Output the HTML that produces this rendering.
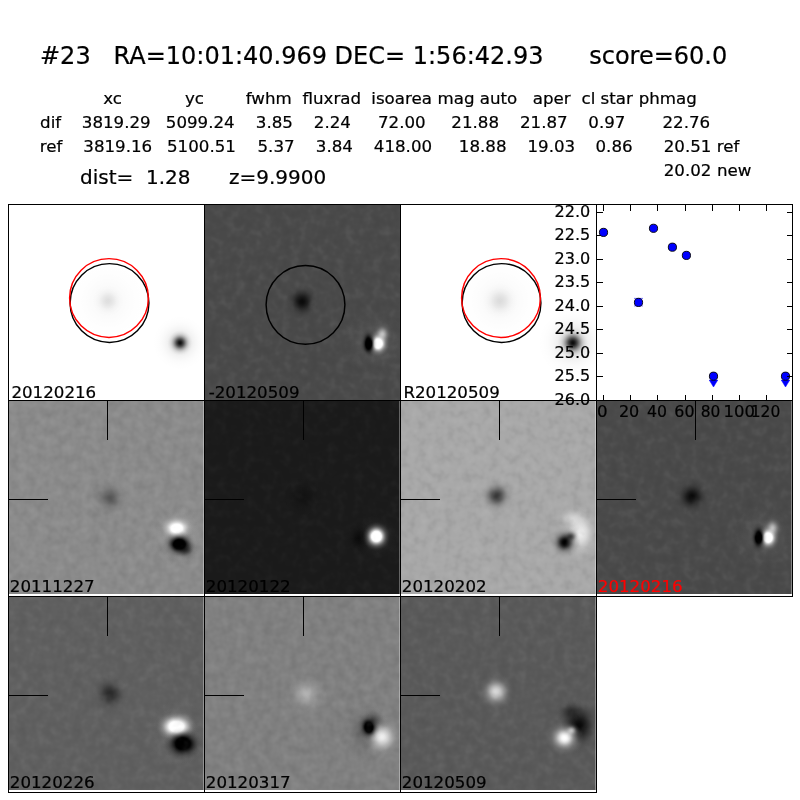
<!DOCTYPE html>
<html lang="en"><head><meta charset="utf-8"><title>#23 candidate</title>
<style>
html,body{margin:0;padding:0;background:#fff;}
body{width:800px;height:800px;overflow:hidden;position:relative;}
svg{position:absolute;left:0;top:0;display:block;}
text{font-family:"DejaVu Sans", "Liberation Sans", sans-serif;fill:#000;stroke:#000;stroke-width:0.22px;}
.t24{font-size:24px}.t20{font-size:20px}.t16{font-size:16.667px}
.ln{stroke:#000;stroke-width:1;shape-rendering:crispEdges;fill:none}
</style></head><body>
<svg width="800" height="800" viewBox="0 0 800 800">
<defs>
<radialGradient id="gk"><stop offset="0.00" stop-color="#000" stop-opacity="1.000"/><stop offset="0.07" stop-color="#000" stop-opacity="0.977"/><stop offset="0.14" stop-color="#000" stop-opacity="0.911"/><stop offset="0.21" stop-color="#000" stop-opacity="0.811"/><stop offset="0.29" stop-color="#000" stop-opacity="0.689"/><stop offset="0.36" stop-color="#000" stop-opacity="0.558"/><stop offset="0.43" stop-color="#000" stop-opacity="0.431"/><stop offset="0.50" stop-color="#000" stop-opacity="0.317"/><stop offset="0.57" stop-color="#000" stop-opacity="0.221"/><stop offset="0.64" stop-color="#000" stop-opacity="0.146"/><stop offset="0.71" stop-color="#000" stop-opacity="0.091"/><stop offset="0.79" stop-color="#000" stop-opacity="0.052"/><stop offset="0.86" stop-color="#000" stop-opacity="0.026"/><stop offset="0.93" stop-color="#000" stop-opacity="0.010"/><stop offset="1.00" stop-color="#000" stop-opacity="0.000"/></radialGradient>
<radialGradient id="gw"><stop offset="0.00" stop-color="#fff" stop-opacity="1.000"/><stop offset="0.07" stop-color="#fff" stop-opacity="0.977"/><stop offset="0.14" stop-color="#fff" stop-opacity="0.911"/><stop offset="0.21" stop-color="#fff" stop-opacity="0.811"/><stop offset="0.29" stop-color="#fff" stop-opacity="0.689"/><stop offset="0.36" stop-color="#fff" stop-opacity="0.558"/><stop offset="0.43" stop-color="#fff" stop-opacity="0.431"/><stop offset="0.50" stop-color="#fff" stop-opacity="0.317"/><stop offset="0.57" stop-color="#fff" stop-opacity="0.221"/><stop offset="0.64" stop-color="#fff" stop-opacity="0.146"/><stop offset="0.71" stop-color="#fff" stop-opacity="0.091"/><stop offset="0.79" stop-color="#fff" stop-opacity="0.052"/><stop offset="0.86" stop-color="#fff" stop-opacity="0.026"/><stop offset="0.93" stop-color="#fff" stop-opacity="0.010"/><stop offset="1.00" stop-color="#fff" stop-opacity="0.000"/></radialGradient>
<radialGradient id="gK"><stop offset="0.00" stop-color="#000" stop-opacity="1.000"/><stop offset="0.07" stop-color="#000" stop-opacity="1.000"/><stop offset="0.14" stop-color="#000" stop-opacity="1.000"/><stop offset="0.21" stop-color="#000" stop-opacity="1.000"/><stop offset="0.29" stop-color="#000" stop-opacity="1.000"/><stop offset="0.36" stop-color="#000" stop-opacity="0.949"/><stop offset="0.43" stop-color="#000" stop-opacity="0.733"/><stop offset="0.50" stop-color="#000" stop-opacity="0.539"/><stop offset="0.57" stop-color="#000" stop-opacity="0.376"/><stop offset="0.64" stop-color="#000" stop-opacity="0.249"/><stop offset="0.71" stop-color="#000" stop-opacity="0.154"/><stop offset="0.79" stop-color="#000" stop-opacity="0.088"/><stop offset="0.86" stop-color="#000" stop-opacity="0.044"/><stop offset="0.93" stop-color="#000" stop-opacity="0.016"/><stop offset="1.00" stop-color="#000" stop-opacity="0.000"/></radialGradient>
<radialGradient id="gW"><stop offset="0.00" stop-color="#fff" stop-opacity="1.000"/><stop offset="0.07" stop-color="#fff" stop-opacity="1.000"/><stop offset="0.14" stop-color="#fff" stop-opacity="1.000"/><stop offset="0.21" stop-color="#fff" stop-opacity="1.000"/><stop offset="0.29" stop-color="#fff" stop-opacity="1.000"/><stop offset="0.36" stop-color="#fff" stop-opacity="0.949"/><stop offset="0.43" stop-color="#fff" stop-opacity="0.733"/><stop offset="0.50" stop-color="#fff" stop-opacity="0.539"/><stop offset="0.57" stop-color="#fff" stop-opacity="0.376"/><stop offset="0.64" stop-color="#fff" stop-opacity="0.249"/><stop offset="0.71" stop-color="#fff" stop-opacity="0.154"/><stop offset="0.79" stop-color="#fff" stop-opacity="0.088"/><stop offset="0.86" stop-color="#fff" stop-opacity="0.044"/><stop offset="0.93" stop-color="#fff" stop-opacity="0.016"/><stop offset="1.00" stop-color="#fff" stop-opacity="0.000"/></radialGradient>
<filter id="nzw" x="0" y="0" width="1" height="1" color-interpolation-filters="sRGB"><feTurbulence type="fractalNoise" baseFrequency="0.11" numOctaves="2" seed="3"/><feColorMatrix type="matrix" values="0 0 0 0 1  0 0 0 0 1  0 0 0 0 1  0.36 0 0 0 -0.18"/></filter>
<filter id="nzk" x="0" y="0" width="1" height="1" color-interpolation-filters="sRGB"><feTurbulence type="fractalNoise" baseFrequency="0.11" numOctaves="2" seed="3"/><feColorMatrix type="matrix" values="0 0 0 0 0  0 0 0 0 0  0 0 0 0 0  -0.36 0 0 0 0.18"/></filter>
</defs>
<clipPath id="c0"><rect x="8" y="204" width="196" height="196"/></clipPath>
<g clip-path="url(#c0)">
<rect x="8" y="204" width="196" height="196" fill="#ffffff"/>
<ellipse cx="108" cy="300.8" rx="45" ry="45" fill="url(#gk)" opacity="0.03"/>
<ellipse cx="108" cy="300.8" rx="16.5" ry="16.5" fill="url(#gk)" opacity="0.1"/>
<ellipse cx="180" cy="342.8" rx="28.5" ry="28.5" fill="url(#gk)" opacity="0.13"/>
<ellipse cx="180" cy="342.8" rx="12.9" ry="12.9" fill="url(#gk)" opacity="0.93"/>
</g>
<circle cx="109.5" cy="303.0" r="39.4" fill="none" stroke="#000" stroke-width="1.45"/>
<circle cx="109.0" cy="298.0" r="39.4" fill="none" stroke="#f00" stroke-width="1.45"/>
<rect class="ln" x="8.5" y="204.5" width="196" height="196"/>
<text class="t16" x="11.4" y="397.5">20120216</text>
<clipPath id="c1"><rect x="204" y="204" width="196" height="196"/></clipPath>
<g clip-path="url(#c1)">
<rect x="204" y="204" width="196" height="196" fill="#4a4a4a"/>
<ellipse cx="302" cy="301.6" rx="18.6" ry="18.6" fill="url(#gk)" opacity="0.85"/>
<ellipse cx="375" cy="342" rx="36" ry="36" fill="url(#gw)" opacity="0.09"/>
<ellipse cx="382.4" cy="334.0" rx="10.2" ry="12.0" fill="url(#gw)" opacity="0.6"/>
<ellipse cx="378.2" cy="343.6" rx="11.7" ry="13.5" fill="url(#gW)" opacity="1.0"/>
<ellipse cx="368.6" cy="343.6" rx="8.7" ry="15.9" fill="url(#gK)" opacity="1.0"/>
<rect x="204" y="204" width="196" height="196" filter="url(#nzw)" opacity="0.4"/>
<rect x="204" y="204" width="196" height="196" filter="url(#nzk)" opacity="0.4"/>
</g>
<circle cx="305.5" cy="304.8" r="39.4" fill="none" stroke="#000" stroke-width="1.45"/>
<rect class="ln" x="204.5" y="204.5" width="196" height="196"/>
<text class="t16" x="208.7" y="397.5">-20120509</text>
<clipPath id="c2"><rect x="400" y="204" width="196" height="196"/></clipPath>
<g clip-path="url(#c2)">
<rect x="400" y="204" width="196" height="196" fill="#ffffff"/>
<ellipse cx="500" cy="300.8" rx="48" ry="48" fill="url(#gk)" opacity="0.03"/>
<ellipse cx="500" cy="300.8" rx="19.5" ry="19.5" fill="url(#gk)" opacity="0.11"/>
<ellipse cx="572.8" cy="342.8" rx="36" ry="36" fill="url(#gk)" opacity="0.14"/>
<ellipse cx="572.8" cy="342.8" rx="15.6" ry="15.6" fill="url(#gk)" opacity="0.95"/>
</g>
<circle cx="501.5" cy="303.0" r="39.4" fill="none" stroke="#000" stroke-width="1.45"/>
<circle cx="501.0" cy="298.0" r="39.4" fill="none" stroke="#f00" stroke-width="1.45"/>
<rect class="ln" x="400.5" y="204.5" width="196" height="196"/>
<text class="t16" x="403.4" y="397.5">R20120509</text>
<clipPath id="c3"><rect x="8" y="400" width="196" height="194"/></clipPath>
<g clip-path="url(#c3)">
<rect x="8" y="400" width="196" height="194" fill="#8b8b8b"/>
<ellipse cx="109.2" cy="498" rx="19.5" ry="19.5" fill="url(#gk)" opacity="0.36"/>
<ellipse cx="178" cy="536" rx="36" ry="36" fill="url(#gw)" opacity="0.1"/>
<ellipse cx="177" cy="527.5" rx="22.5" ry="16.5" fill="url(#gw)" opacity="0.35"/>
<ellipse cx="180" cy="546" rx="22.5" ry="18" fill="url(#gk)" opacity="0.35"/>
<ellipse cx="176.8" cy="528.4" rx="16.2" ry="12.0" fill="url(#gW)" opacity="1.0"/>
<ellipse cx="179.4" cy="544.2" rx="16.8" ry="13.5" fill="url(#gK)" opacity="1.0"/>
<ellipse cx="186" cy="550" rx="12" ry="10.5" fill="url(#gk)" opacity="0.5"/>
<rect x="8" y="400" width="196" height="194" filter="url(#nzw)" opacity="0.5"/>
<rect x="8" y="400" width="196" height="194" filter="url(#nzk)" opacity="0.5"/>
</g>
<rect x="203" y="400" width="1" height="194" fill="#fff" opacity="0.32"/>
<path class="ln" d="M107.5 400V440 M8 499.5H48"/>
<rect class="ln" x="8.5" y="400.5" width="196" height="196"/>
<text class="t16" x="9.8" y="592.0">20111227</text>
<clipPath id="c4"><rect x="204" y="400" width="196" height="194"/></clipPath>
<g clip-path="url(#c4)">
<rect x="204" y="400" width="196" height="194" fill="#1b1b1b"/>
<ellipse cx="303" cy="497" rx="24" ry="24" fill="url(#gk)" opacity="0.3"/>
<ellipse cx="360" cy="538.4" rx="15" ry="18" fill="url(#gk)" opacity="0.65"/>
<ellipse cx="377" cy="536.6" rx="24" ry="24" fill="url(#gw)" opacity="0.12"/>
<ellipse cx="376.4" cy="536.4" rx="14.1" ry="14.7" fill="url(#gW)" opacity="1.0"/>
<rect x="204" y="400" width="196" height="194" filter="url(#nzw)" opacity="0.2"/>
<rect x="204" y="400" width="196" height="194" filter="url(#nzk)" opacity="0.2"/>
</g>
<rect x="399" y="400" width="1" height="194" fill="#fff" opacity="0.32"/>
<path class="ln" d="M303.5 400V440 M204 499.5H244"/>
<rect class="ln" x="204.5" y="400.5" width="196" height="196"/>
<text class="t16" x="205.8" y="592.0">20120122</text>
<clipPath id="c5"><rect x="400" y="400" width="196" height="194"/></clipPath>
<g clip-path="url(#c5)">
<rect x="400" y="400" width="196" height="194" fill="#a8a8a8"/>
<ellipse cx="496.8" cy="495.8" rx="18.0" ry="18.0" fill="url(#gk)" opacity="0.68"/>
<ellipse cx="580.5" cy="533" rx="21.0" ry="30" fill="url(#gw)" opacity="0.8"/>
<ellipse cx="572" cy="519" rx="19.5" ry="13.5" fill="url(#gw)" opacity="0.45"/>
<ellipse cx="570.5" cy="536.5" rx="9.6" ry="8.4" fill="url(#gk)" opacity="0.6"/>
<ellipse cx="564.8" cy="542.4" rx="15.9" ry="15.9" fill="url(#gk)" opacity="0.97"/>
<ellipse cx="564.8" cy="542.4" rx="8.4" ry="8.4" fill="url(#gk)" opacity="0.8"/>
<rect x="400" y="400" width="196" height="194" filter="url(#nzw)" opacity="0.5"/>
<rect x="400" y="400" width="196" height="194" filter="url(#nzk)" opacity="0.5"/>
</g>
<rect x="595" y="400" width="1" height="194" fill="#fff" opacity="0.32"/>
<path class="ln" d="M499.5 400V440 M400 499.5H440"/>
<rect class="ln" x="400.5" y="400.5" width="196" height="196"/>
<text class="t16" x="401.8" y="592.0">20120202</text>
<clipPath id="c6"><rect x="596" y="400" width="196" height="194"/></clipPath>
<g clip-path="url(#c6)">
<rect x="596" y="400" width="196" height="194" fill="#4a4a4a"/>
<ellipse cx="692" cy="496.6" rx="18.6" ry="18.6" fill="url(#gk)" opacity="0.87"/>
<ellipse cx="765" cy="536" rx="36" ry="36" fill="url(#gw)" opacity="0.09"/>
<ellipse cx="772.4" cy="528.0" rx="10.2" ry="12.0" fill="url(#gw)" opacity="0.6"/>
<ellipse cx="768.2" cy="537.6" rx="11.7" ry="13.5" fill="url(#gW)" opacity="1.0"/>
<ellipse cx="758.6" cy="537.6" rx="8.7" ry="15.9" fill="url(#gK)" opacity="1.0"/>
<rect x="596" y="400" width="196" height="194" filter="url(#nzw)" opacity="0.4"/>
<rect x="596" y="400" width="196" height="194" filter="url(#nzk)" opacity="0.4"/>
</g>
<rect x="791" y="400" width="1" height="194" fill="#fff" opacity="0.32"/>
<path class="ln" d="M695.5 400V440 M596 499.5H636"/>
<rect class="ln" x="596.5" y="400.5" width="196" height="196"/>
<text class="t16" x="597.8" y="592.0" style="fill:#f00;stroke:#f00">20120216</text>
<clipPath id="c7"><rect x="8" y="596" width="196" height="194"/></clipPath>
<g clip-path="url(#c7)">
<rect x="8" y="596" width="196" height="194" fill="#606060"/>
<ellipse cx="110.2" cy="693.8" rx="19.5" ry="20.4" fill="url(#gk)" opacity="0.58"/>
<ellipse cx="178" cy="733" rx="39" ry="39" fill="url(#gw)" opacity="0.07"/>
<ellipse cx="176.4" cy="725.5" rx="24" ry="18" fill="url(#gw)" opacity="0.35"/>
<ellipse cx="184" cy="745" rx="24" ry="19.5" fill="url(#gk)" opacity="0.35"/>
<ellipse cx="176.4" cy="726.6" rx="20.4" ry="15.0" fill="url(#gW)" opacity="1.0"/>
<ellipse cx="182.8" cy="743.6" rx="20.4" ry="16.8" fill="url(#gK)" opacity="1.0"/>
<rect x="8" y="596" width="196" height="194" filter="url(#nzw)" opacity="0.4"/>
<rect x="8" y="596" width="196" height="194" filter="url(#nzk)" opacity="0.4"/>
</g>
<rect x="203" y="596" width="1" height="194" fill="#fff" opacity="0.32"/>
<path class="ln" d="M107.5 596V636 M8 695.5H48"/>
<rect class="ln" x="8.5" y="596.5" width="196" height="196"/>
<text class="t16" x="9.8" y="788.0">20120226</text>
<clipPath id="c8"><rect x="204" y="596" width="196" height="194"/></clipPath>
<g clip-path="url(#c8)">
<rect x="204" y="596" width="196" height="194" fill="#808080"/>
<ellipse cx="306.6" cy="693.8" rx="22.5" ry="22.5" fill="url(#gw)" opacity="0.38"/>
<ellipse cx="366" cy="732" rx="30" ry="33" fill="url(#gk)" opacity="0.22"/>
<ellipse cx="381.8" cy="737.0" rx="21.6" ry="21.6" fill="url(#gw)" opacity="0.88"/>
<ellipse cx="373" cy="721" rx="16.5" ry="15" fill="url(#gk)" opacity="0.32"/>
<ellipse cx="368.8" cy="727.2" rx="11.4" ry="14.4" fill="url(#gK)" opacity="1.0"/>
<rect x="204" y="596" width="196" height="194" filter="url(#nzw)" opacity="0.5"/>
<rect x="204" y="596" width="196" height="194" filter="url(#nzk)" opacity="0.5"/>
</g>
<rect x="399" y="596" width="1" height="194" fill="#fff" opacity="0.32"/>
<path class="ln" d="M303.5 596V636 M204 695.5H244"/>
<rect class="ln" x="204.5" y="596.5" width="196" height="196"/>
<text class="t16" x="205.8" y="788.0">20120317</text>
<clipPath id="c9"><rect x="400" y="596" width="196" height="194"/></clipPath>
<g clip-path="url(#c9)">
<rect x="400" y="596" width="196" height="194" fill="#5a5a5a"/>
<ellipse cx="496" cy="692" rx="18.6" ry="18.6" fill="url(#gw)" opacity="0.8"/>
<ellipse cx="579" cy="725.5" rx="24" ry="28.5" fill="url(#gk)" opacity="0.9"/>
<ellipse cx="571" cy="712" rx="18" ry="13.5" fill="url(#gk)" opacity="0.45"/>
<ellipse cx="571.5" cy="730.5" rx="9" ry="7.8" fill="url(#gw)" opacity="0.6"/>
<ellipse cx="564.6" cy="737.8" rx="19.2" ry="18.0" fill="url(#gw)" opacity="1.0"/>
<ellipse cx="564.8" cy="737.6" rx="9.0" ry="9.0" fill="url(#gw)" opacity="0.7"/>
<rect x="400" y="596" width="196" height="194" filter="url(#nzw)" opacity="0.4"/>
<rect x="400" y="596" width="196" height="194" filter="url(#nzk)" opacity="0.4"/>
</g>
<rect x="595" y="596" width="1" height="194" fill="#fff" opacity="0.32"/>
<path class="ln" d="M499.5 596V636 M400 695.5H440"/>
<rect class="ln" x="400.5" y="596.5" width="196" height="196"/>
<text class="t16" x="401.8" y="788.0">20120509</text>
<rect x="596" y="204" width="196" height="196" fill="#fff"/>
<path class="ln" d="M596.5 212.5h6M792.5 212.5h-6M596.5 235.5h6M792.5 235.5h-6M596.5 259.5h6M792.5 259.5h-6M596.5 282.5h6M792.5 282.5h-6M596.5 306.5h6M792.5 306.5h-6M596.5 329.5h6M792.5 329.5h-6M596.5 353.5h6M792.5 353.5h-6M596.5 376.5h6M792.5 376.5h-6M603.5 204.5v6M603.5 400.5v-6M630.5 204.5v6M630.5 400.5v-6M657.5 204.5v6M657.5 400.5v-6M685.5 204.5v6M685.5 400.5v-6M712.5 204.5v6M712.5 400.5v-6M739.5 204.5v6M739.5 400.5v-6M766.5 204.5v6M766.5 400.5v-6"/>
<path d="M709.2 380.0h8.6l-4.3 7z" fill="#00f" stroke="#00f" stroke-width="0.5"/>
<path d="M781.2 380.0h8.6l-4.3 7z" fill="#00f" stroke="#00f" stroke-width="0.5"/>
<path d="M634 298.4h9M634 305.9h9" stroke="#00f" stroke-width="0.8" stroke-opacity="0.7" fill="none"/>
<circle cx="603.5" cy="232.4" r="4.1" fill="#00f" stroke="#000" stroke-width="0.9"/>
<circle cx="638.5" cy="302.4" r="4.1" fill="#00f" stroke="#000" stroke-width="0.9"/>
<circle cx="653.5" cy="228.3" r="4.1" fill="#00f" stroke="#000" stroke-width="0.9"/>
<circle cx="672.4" cy="247.2" r="4.1" fill="#00f" stroke="#000" stroke-width="0.9"/>
<circle cx="686.4" cy="255.4" r="4.1" fill="#00f" stroke="#000" stroke-width="0.9"/>
<circle cx="713.5" cy="376.2" r="4.1" fill="#00f" stroke="#000" stroke-width="0.9"/>
<circle cx="785.5" cy="376.2" r="4.1" fill="#00f" stroke="#000" stroke-width="0.9"/>
<path class="ln" d="M792.5 376.5h-6"/>
<rect class="ln" x="596.5" y="204.5" width="196" height="196"/>
<text class="t16" text-anchor="end" x="590.3" y="217.0" textLength="35.8" lengthAdjust="spacingAndGlyphs">22.0</text>
<text class="t16" text-anchor="end" x="590.3" y="240.4" textLength="35.8" lengthAdjust="spacingAndGlyphs">22.5</text>
<text class="t16" text-anchor="end" x="590.3" y="263.9" textLength="35.8" lengthAdjust="spacingAndGlyphs">23.0</text>
<text class="t16" text-anchor="end" x="590.3" y="287.4" textLength="35.8" lengthAdjust="spacingAndGlyphs">23.5</text>
<text class="t16" text-anchor="end" x="590.3" y="310.8" textLength="35.8" lengthAdjust="spacingAndGlyphs">24.0</text>
<text class="t16" text-anchor="end" x="590.3" y="334.2" textLength="35.8" lengthAdjust="spacingAndGlyphs">24.5</text>
<text class="t16" text-anchor="end" x="590.3" y="357.7" textLength="35.8" lengthAdjust="spacingAndGlyphs">25.0</text>
<text class="t16" text-anchor="end" x="590.3" y="381.2" textLength="35.8" lengthAdjust="spacingAndGlyphs">25.5</text>
<text class="t16" text-anchor="end" x="590.3" y="404.6" textLength="35.8" lengthAdjust="spacingAndGlyphs">26.0</text>
<text class="t16" text-anchor="middle" x="602.3" y="416.5">0</text>
<text class="t16" text-anchor="middle" x="629.1" y="416.5" textLength="20.4" lengthAdjust="spacingAndGlyphs">20</text>
<text class="t16" text-anchor="middle" x="657.0" y="416.5" textLength="20.0" lengthAdjust="spacingAndGlyphs">40</text>
<text class="t16" text-anchor="middle" x="684.4" y="416.5" textLength="20.2" lengthAdjust="spacingAndGlyphs">60</text>
<text class="t16" text-anchor="middle" x="710.5" y="416.5" textLength="19.6" lengthAdjust="spacingAndGlyphs">80</text>
<text class="t16" text-anchor="middle" x="739.3" y="416.5" textLength="31.4" lengthAdjust="spacingAndGlyphs">100</text>
<text class="t16" text-anchor="middle" x="765.5" y="416.5" textLength="29.6" lengthAdjust="spacingAndGlyphs">120</text>
<text class="t24" x="40" y="64" xml:space="preserve" style="white-space:pre">#23   RA=10:01:40.969 DEC= 1:56:42.93      score=60.0</text>
<text class="t16" x="103.2" y="104">xc</text>
<text class="t16" x="185" y="104">yc</text>
<text class="t16" x="245.8" y="104">fwhm</text>
<text class="t16" x="302.5" y="104">fluxrad</text>
<text class="t16" x="371.3" y="104">isoarea</text>
<text class="t16" x="437.5" y="104">mag</text>
<text class="t16" x="479.7" y="104">auto</text>
<text class="t16" x="532.7" y="104">aper</text>
<text class="t16" x="581.5" y="104">cl</text>
<text class="t16" x="600.5" y="104">star</text>
<text class="t16" x="638.7" y="104">phmag</text>
<text class="t16" x="40.1" y="128">dif</text>
<text class="t16" x="81.8" y="128">3819.29</text>
<text class="t16" x="165.8" y="128">5099.24</text>
<text class="t16" x="255.8" y="128">3.85</text>
<text class="t16" x="313.8" y="128">2.24</text>
<text class="t16" x="378" y="128">72.00</text>
<text class="t16" x="451.3" y="128">21.88</text>
<text class="t16" x="520" y="128">21.87</text>
<text class="t16" x="588.3" y="128">0.97</text>
<text class="t16" x="662.5" y="128">22.76</text>
<text class="t16" x="39.7" y="152">ref</text>
<text class="t16" x="83.3" y="152">3819.16</text>
<text class="t16" x="167" y="152">5100.51</text>
<text class="t16" x="257.5" y="152">5.37</text>
<text class="t16" x="315.8" y="152">3.84</text>
<text class="t16" x="373.8" y="152">418.00</text>
<text class="t16" x="458.8" y="152">18.88</text>
<text class="t16" x="527.5" y="152">19.03</text>
<text class="t16" x="595.5" y="152">0.86</text>
<text class="t16" x="663.7" y="152">20.51</text>
<text class="t16" x="716.8" y="152">ref</text>
<text class="t16" x="663.7" y="176">20.02</text>
<text class="t16" x="717" y="176">new</text>
<text class="t20" x="80" y="184">dist=</text>
<text class="t20" x="146" y="184">1.28</text>
<text class="t20" x="229" y="184">z=9.9900</text>
</svg>
</body></html>
